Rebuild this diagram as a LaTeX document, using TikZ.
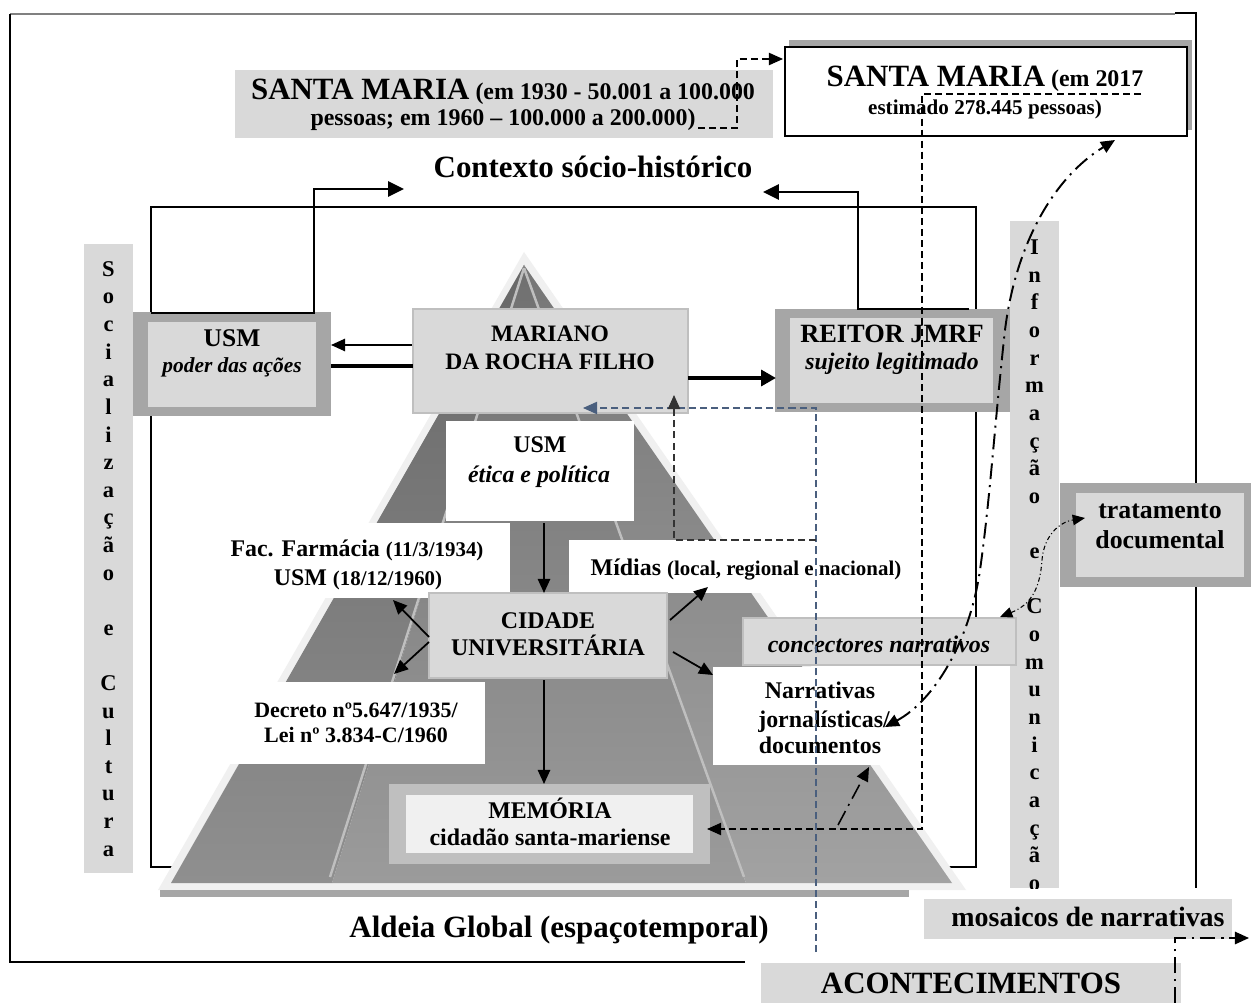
\documentclass[tikz,border=0pt]{standalone}
\usepackage{fontspec}
\setmainfont{Liberation Serif}
\usetikzlibrary{arrows.meta}
\definecolor{bx}{HTML}{D9D9D9}
\definecolor{fr}{HTML}{A6A6A6}
\definecolor{bd}{HTML}{BFBFBF}
\definecolor{lt}{HTML}{F0F0F0}
\definecolor{bgr}{HTML}{4A5F7E}
\newcommand\szA{\fontsize{17.6pt}{20pt}\selectfont}
\newcommand\szB{\fontsize{13.6pt}{16pt}\selectfont}
\newcommand\szC{\fontsize{11.9pt}{14pt}\selectfont}
\newcommand\szD{\fontsize{14.7pt}{17pt}\selectfont}
\newcommand\szE{\fontsize{15.9pt}{18pt}\selectfont}
\newcommand\szV{\fontsize{12.8pt}{15pt}\selectfont}
\newcommand\szM{\fontsize{13.4pt}{15pt}\selectfont}
\newcommand\mkbox[6]{\node[#6,inner sep=0pt,outer sep=0pt,minimum width={(#4-#2)*0.02cm},minimum height={(#5-#3)*0.02cm}] (#1) at ({(#2+#4)/2},{(#3+#5)/2}) {};}
\begin{document}
\begin{tikzpicture}[x=0.02cm,y=-0.02cm,
  t/.style={inner sep=0pt,anchor=base,font=\bfseries\szB},
  arr/.style={line width=1pt,-{Triangle[length=8pt,width=7pt]}},
  thk/.style={line width=2.3pt,-{Triangle[length=8.5pt,width=9pt]}},
  ctx/.style={line width=1.6pt,line join=miter,-{Triangle[length=9pt,width=8.5pt]}},
  dsh/.style={line width=0.6pt,dash pattern=on 4pt off 2.3pt},
  ddot/.style={line width=1.1pt,dash pattern=on 9pt off 3.4pt on 1.2pt off 3.4pt},
  ddd/.style={line width=0.6pt,dash pattern=on 2.5pt off 1.5pt on 0.6pt off 1.5pt}]
\useasboundingbox (0,0) rectangle (1251,1003);
\fill[white] (0,0) rectangle (1251,1003);
% outer frame
\draw[gray,line width=0.6pt] (10,14) -- (1175,14);
\draw[line width=1.2pt] (10,14) -- (10,962) -- (745,962);
\draw[line width=1.2pt] (1175,13) -- (1196,13) -- (1196,888);
% Santa Maria boxes
\mkbox{smL}{235}{70}{773}{138}{fill=bx}
\node[t] (smL1) at (503,100) {{\szA SANTA MARIA} (em 1930 - 50.001 a 100.000};
\node[t] (smL2) at (503,126) {pessoas; em 1960 – 100.000 a 200.000)};
\mkbox{smRs}{789}{40}{1192}{130}{fill=fr}
\mkbox{smR}{785}{47}{1187}{136}{fill=white,draw=black,line width=1.2pt}
\node[t] (smR1) at (985,87) {{\szA SANTA MARIA} (em 2017};
\node[t,font=\bfseries\fontsize{12pt}{14pt}\selectfont] (smR2) at (985,115) {estimado 278.445 pessoas)};
\node[t,font=\bfseries\szA] (ctxt) at (593,178) {Contexto sócio-histórico};
% inner frame
\draw[line width=0.8pt] (151,207) rectangle (976,867);
% pyramid
\fill[lt] (524,252) -- (966,890) -- (158,890) -- cycle;
\fill[fr] (160,890) rectangle (909,897);
\shade[top color={rgb,255:red,104;green,104;blue,104},bottom color={rgb,255:red,143;green,143;blue,143}] (524,265) -- (332,883) -- (171,883) -- cycle;
\shade[top color={rgb,255:red,112;green,112;blue,112},bottom color={rgb,255:red,155;green,155;blue,155}] (524,265) -- (746,883) -- (332,883) -- cycle;
\shade[top color={rgb,255:red,118;green,118;blue,118},bottom color={rgb,255:red,162;green,162;blue,162}] (524,265) -- (952,883) -- (746,883) -- cycle;
\draw[bd,line width=1.4pt] (524,268) -- (330,877);
\draw[bd,line width=1.4pt] (524,268) -- (744,877);
% white boxes
\mkbox{etica}{446}{421}{634}{521}{fill=white}
\mkbox{fac}{215}{523}{510}{598}{fill=white}
\mkbox{midias}{569}{540}{915}{593}{fill=white}
\mkbox{decr}{220}{682}{485}{764}{fill=white}
\mkbox{narr}{713}{667}{970}{765}{fill=white}
% gray boxes
\mkbox{usmO}{132}{312}{331}{416}{fill=fr}
\mkbox{usm}{148}{322}{316}{407}{fill=bx}
\mkbox{mar}{413}{309}{688}{413}{fill=bx,draw=bd,line width=1.2pt}
\mkbox{reiO}{775}{309}{1010}{412}{fill=fr}
\mkbox{rei}{790}{318}{993}{403}{fill=bx}
\mkbox{cid}{429}{593}{667}{678}{fill=bx,draw=bd,line width=1.2pt}
\mkbox{memO}{389}{784}{710}{864}{fill=bd}
\mkbox{mem}{406}{795}{693}{853}{fill=lt}
% side bars
\mkbox{barL}{84}{244}{133}{873}{fill=bx}
\mkbox{barR}{1010}{221}{1059}{888}{fill=bx}
\foreach \l [count=\i from 0] in {S,o,c,i,a,l,i,z,a,ç,ã,o,{},e,{},C,u,l,t,u,r,a}
  \node[t,font=\bfseries\szV] (sl\i) at (108.5,{276.4+27.6*\i}) {\l};
\begin{scope}
\clip (1010,221) rectangle (1059,888);
\foreach \l [count=\i from 0] in {I,n,f,o,r,m,a,ç,ã,o,{},e,{},C,o,m,u,n,i,c,a,ç,ã,o}
  \node[t,font=\bfseries\szV] (ic\i) at (1034.5,{254.5+27.65*\i}) {\l};
\end{scope}
\mkbox{conc}{743}{618}{1016}{665}{fill=bx,draw=bd,line width=1.2pt}
\mkbox{tratO}{1060}{483}{1251}{587}{fill=fr}
\mkbox{trat}{1076}{493}{1244}{577}{fill=bx}
\mkbox{mos}{924}{899}{1232}{939}{fill=bx}
\mkbox{acon}{761}{963}{1181}{1003}{fill=bx}
% texts
\node[t,font=\bfseries\fontsize{14.5pt}{16pt}\selectfont] (usm1) at (232,347) {USM};
\node[t,font=\bfseries\itshape\fontsize{12.2pt}{14pt}\selectfont] (usm2) at (232,373) {poder das ações};
\node[t,font=\bfseries\szM] (mar1) at (550,342) {MARIANO};
\node[t,font=\bfseries\szM] (mar2) at (550,370) {DA ROCHA FILHO};
\node[t,font=\bfseries\fontsize{15pt}{17pt}\selectfont] (rei1) at (892,343) {REITOR JMRF};
\node[t,font=\bfseries\itshape\fontsize{13.5pt}{15pt}\selectfont] (rei2) at (892,370) {sujeito legitimado};
\node[t] (et1) at (540,453) {USM};
\node[t,font=\bfseries\itshape\szB] (et2) at (539,482) {ética e política};
\node[t] (fac1) at (357,556) {Fac. Farmácia {\szC(11/3/1934)}};
\node[t] (fac2) at (358,585) {USM {\szC(18/12/1960)}};
\node[t] (mid1) at (746,575) {Mídias {\szC(local, regional e nacional)}};
\node[t] (cid1) at (548,628) {CIDADE};
\node[t] (cid2) at (548,655) {UNIVERSITÁRIA};
\node[t,font=\bfseries\fontsize{12.5pt}{14pt}\selectfont] (dec1) at (356,717) {Decreto nº5.647/1935/};
\node[t,font=\bfseries\fontsize{12.5pt}{14pt}\selectfont] (dec2) at (356,742) {Lei nº 3.834-C/1960};
\node[t] (mem1) at (550,818) {MEMÓRIA};
\node[t] (mem2) at (550,845) {cidadão santa-mariense};
\node[t,font=\bfseries\itshape\szB] (conc1) at (879,652) {concectores narrativos};
\node[t] (nar1) at (820,698) {Narrativas};
\node[t] (nar2) at (824,727) {jornalísticas/};
\node[t] (nar3) at (820,753) {documentos};
\node[t,font=\bfseries\szD] (tr1) at (1160,518) {tratamento};
\node[t,font=\bfseries\szD] (tr2) at (1160,548) {documental};
\node[t,font=\bfseries\szE] (mos1) at (1088,926) {mosaicos de narrativas};
\node[t,font=\bfseries\szA] (ac1) at (971,993) {ACONTECIMENTOS};
\node[t,font=\bfseries\szA] (ald) at (559,937) {Aldeia Global (espaçotemporal)};
% connector points
\coordinate (k1) at (151,313); \coordinate (k2) at (314,313);
\coordinate (k3) at (314,189); \coordinate (k4) at (404,189);
\coordinate (k5) at (969,309); \coordinate (k6) at (858,309);
\coordinate (k7) at (858,192); \coordinate (k8) at (763,192);
\draw[ctx] (k1) -- (k2) -- (k3) -- (k4);
\draw[ctx] (k5) -- (k6) -- (k7) -- (k8);
\coordinate (mu1) at (412,345); \coordinate (mu2) at (331,345);
\draw[arr] (mu1) -- (mu2);
\coordinate (mu3) at (331,366); \coordinate (mu4) at (413,366);
\draw[line width=2.3pt] (mu3) -- (mu4);
\coordinate (mr1) at (688,378); \coordinate (mr2) at (776,378);
\draw[thk] (mr1) -- (mr2);
\coordinate (e1) at (544,523); \coordinate (e2) at (544,593);
\draw[arr] (e1) -- (e2);
\coordinate (c1) at (544,680); \coordinate (c2) at (544,784);
\draw[arr] (c1) -- (c2);
\coordinate (f1) at (429,637); \coordinate (f2) at (393,600);
\draw[arr] (f1) -- (f2);
\coordinate (d1) at (429,642); \coordinate (d2) at (394,674);
\draw[arr] (d1) -- (d2);
\coordinate (g1) at (670,620); \coordinate (g2) at (708,587);
\draw[arr] (g1) -- (g2);
\coordinate (n1) at (673,652); \coordinate (n2) at (713,675);
\draw[arr] (n1) -- (n2);
% dashed
\coordinate (s1) at (698,128); \coordinate (s2) at (737,128);
\coordinate (s3) at (737,59); \coordinate (s4) at (783,59);
\draw[dsh,-{Triangle[length=8pt,width=7pt]}] (s1) -- (s2) -- (s3) -- (s4);
\coordinate (v1) at (1141,94); \coordinate (v2) at (922,94);
\coordinate (v3) at (922,829); \coordinate (v4) at (707,829);
\draw[dsh,-{Triangle[length=8pt,width=7pt]}] (v1) -- (v2) -- (v3) -- (v4);
\coordinate (b1) at (816,952); \coordinate (b2) at (816,408); \coordinate (b3) at (583,408);
\draw[dsh,bgr,-{Triangle[length=8pt,width=7pt]}] (b1) -- (b2) -- (b3);
\coordinate (h1) at (816,540); \coordinate (h2) at (674,540); \coordinate (h3) at (674,395);
\draw[dsh,black!80,-{Triangle[length=8pt,width=7pt]}] (h1) -- (h2) -- (h3);
% dash dot
\coordinate (q0) at (885,727); \coordinate (q1) at (980,570);
\coordinate (q2) at (1005,330); \coordinate (q3) at (1115,140);
\draw[ddot,{Triangle[length=8pt,width=7pt]}-{Triangle[length=8pt,width=7pt]}] (q0) .. controls (935,700) and (970,640) .. (q1) .. controls (990,500) and (995,420) .. (q2) .. controls (1015,250) and (1050,180) .. (q3);
\coordinate (p0) at (838,825); \coordinate (p1) at (869,767);
\draw[ddot,line width=0.9pt,-{Triangle[length=8pt,width=7pt]}] (p0) -- (p1);
\coordinate (r0) at (1000,617); \coordinate (r1) at (1042,560); \coordinate (r2) at (1085,518);
\draw[ddd,{Triangle[length=7pt,width=6pt]}-{Triangle[length=7pt,width=6pt]}] (r0) .. controls (1030,605) and (1040,590) .. (r1) .. controls (1044,535) and (1060,522) .. (r2);
\coordinate (w0) at (1175,1003); \coordinate (w1) at (1175,938); \coordinate (w2) at (1249,938);
\draw[ddot,-{Triangle[length=8pt,width=7pt]}] (w0) -- (w1) -- (w2);
\end{tikzpicture}
\end{document}
